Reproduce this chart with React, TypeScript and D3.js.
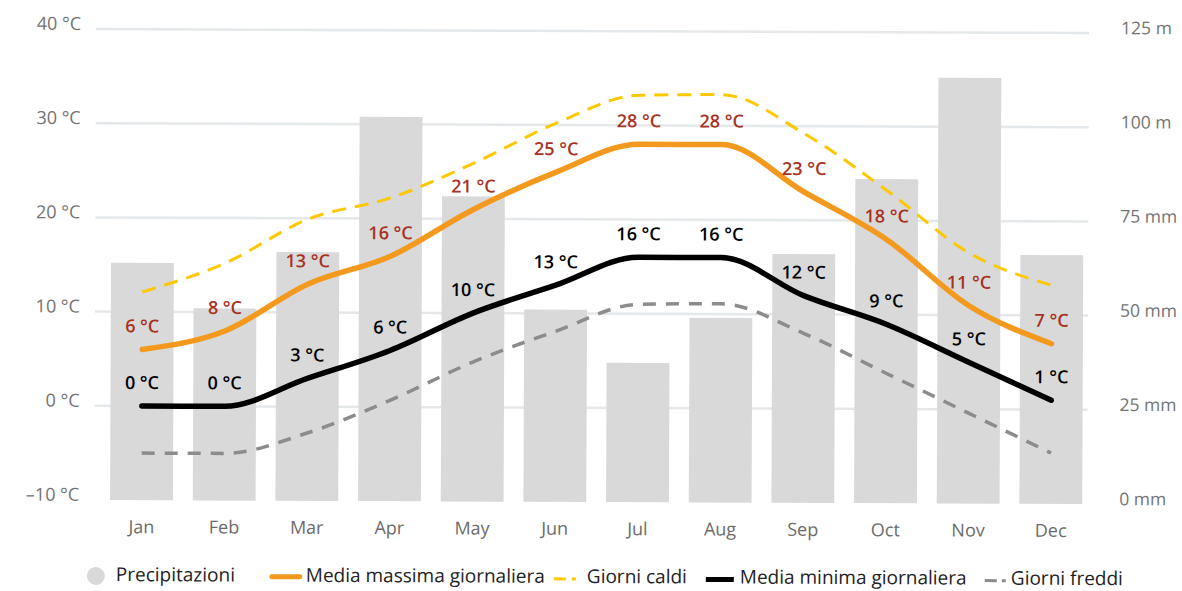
import React from "react";
import * as d3 from "d3";

const months = ["Jan", "Feb", "Mar", "Apr", "May", "Jun", "Jul", "Aug", "Sep", "Oct", "Nov", "Dec"];
const precipitation = [63, 51, 66, 102, 81, 51, 37, 49, 66, 86, 113, 66];
const maxTemp = [6, 8, 13, 16, 21, 25, 28, 28, 23, 18, 11, 7];
const minTemp = [0, 0, 3, 6, 10, 13, 16, 16, 12, 9, 5, 1];
const hotDays = [12.1, 15.2, 19.9, 22.2, 25.9, 30.2, 33.2, 33.3, 29.2, 23.2, 16.6, 13.2];
const coldDays = [-5.0, -5.0, -2.8, 0.7, 4.8, 8.1, 11.0, 11.1, 8.0, 3.8, -0.4, -4.6];
const tempTicks = [-10, 0, 10, 20, 30, 40];
const tempTickLabels = ["\u201310 °C", "0 °C", "10 °C", "20 °C", "30 °C", "40 °C"];
const rainTicks = [0, 25, 50, 75, 100, 125];
const rainTickLabels = ["0 mm", "25 mm", "50 mm", "75 mm", "100 m", "125 m"];

const W = 1182;
const H = 591;
const FONT = "'Open Sans', 'DejaVu Sans', sans-serif";

export default function App() {
  const x = d3.scaleBand<string>().domain(months).range([101, 1093]).paddingInner(0.24).paddingOuter(0.12);
  const yT = d3.scaleLinear().domain([-10, 40]).range([502, 31]);
  const yR = d3.scaleLinear().domain([0, 125]).range([502, 31]);
  const cx = (i: number) => (x(months[i]) as number) + x.bandwidth() / 2;

  const line = d3
    .line<number>()
    .x((_, i) => cx(i))
    .y((d) => yT(d))
    .curve(d3.curveMonotoneX);

  const legendY = 583;

  return (
    <svg
      width={W}
      height={H}
      style={{ position: "absolute", left: 0, top: 0, background: "#fff" }}
      fontFamily={FONT}
    >
      <g transform={`rotate(0.233, ${W / 2}, ${H / 2})`}>
        {/* gridlines */}
        {tempTicks
          .filter((t) => t > -10)
          .map((t) => (
            <line key={t} x1={95} x2={1088} y1={yT(t)} y2={yT(t)} stroke="#e5e8ea" strokeWidth={2.5} />
          ))}

        {/* precipitation bars */}
        {precipitation.map((v, i) => (
          <rect
            key={months[i]}
            x={x(months[i])}
            width={x.bandwidth()}
            y={yR(v)}
            height={yR(0) - yR(v)}
            fill="#d9d9d9"
          />
        ))}

        {/* left axis */}
        {tempTicks.map((t, i) => (
          <text key={t} x={80} y={yT(t) + 1} textAnchor="end" fontSize={18} fill="#737373">
            {tempTickLabels[i]}
          </text>
        ))}

        {/* right axis */}
        {rainTicks.map((t, i) => (
          <text key={t} x={1120} y={yR(t) + 1} textAnchor="start" fontSize={17.5} fill="#737373">
            {rainTickLabels[i]}
          </text>
        ))}

        {/* month labels */}
        {months.map((m, i) => (
          <text key={m} x={cx(i)} y={535} textAnchor="middle" fontSize={18} fill="#6b6b6b">
            {m}
          </text>
        ))}

        {/* lines */}
        <path d={line(coldDays) ?? ""} fill="none" stroke="#8c8c8c" strokeWidth={3.5} strokeDasharray="13 10" />
        <path d={line(hotDays) ?? ""} fill="none" stroke="#fcc800" strokeWidth={3} strokeDasharray="14 9" />
        <path d={line(maxTemp) ?? ""} fill="none" stroke="#f39a1e" strokeWidth={5.5} strokeLinecap="round" />
        <path d={line(minTemp) ?? ""} fill="none" stroke="#000" strokeWidth={5.5} strokeLinecap="round" />

        {/* value labels */}
        {maxTemp.map((v, i) => (
          <text
            key={"mx" + i}
            x={cx(i)}
            y={yT(v) - 17}
            textAnchor="middle"
            fontSize={18}
            fontWeight={600}
            fill="#a8321f"
          >
            {`${v} °C`}
          </text>
        ))}
        {minTemp.map((v, i) => (
          <text
            key={"mn" + i}
            x={cx(i)}
            y={yT(v) - 17}
            textAnchor="middle"
            fontSize={18}
            fontWeight={600}
            fill="#000"
          >
            {`${v} °C`}
          </text>
        ))}

        {/* legend */}
        <g fontSize={19} fill="#222">
          <circle cx={97} cy={legendY - 5} r={9} fill="#d9d9d9" />
          <text x={117} y={legendY}>Precipitazioni</text>

          <line x1={273} x2={301} y1={legendY - 5} y2={legendY - 5} stroke="#f39a1e" strokeWidth={5} strokeLinecap="round" />
          <text x={307} y={legendY}>Media massima giornaliera</text>

          <line x1={555} x2={567} y1={legendY - 4} y2={legendY - 4} stroke="#fcc800" strokeWidth={3} />
          <line x1={573} x2={577} y1={legendY - 4} y2={legendY - 4} stroke="#fcc800" strokeWidth={3} />
          <text x={588} y={legendY}>Giorni caldi</text>

          <line x1={707} x2={735} y1={legendY - 4} y2={legendY - 4} stroke="#000" strokeWidth={5} />
          <text x={741} y={legendY}>Media minima giornaliera</text>

          <line x1={986} x2={998} y1={legendY - 4} y2={legendY - 4} stroke="#8c8c8c" strokeWidth={3} />
          <line x1={1003} x2={1007} y1={legendY - 4} y2={legendY - 4} stroke="#8c8c8c" strokeWidth={3} />
          <text x={1012} y={legendY}>Giorni freddi</text>
        </g>
      </g>
    </svg>
  );
}
